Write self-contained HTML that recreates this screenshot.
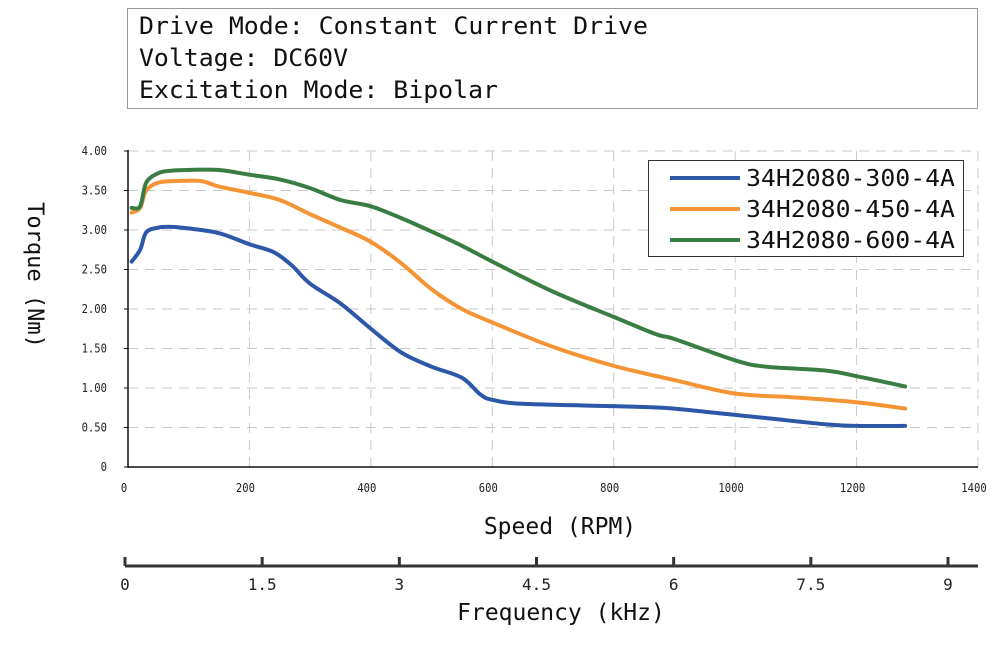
<!DOCTYPE html>
<html><head><meta charset="utf-8"><style>
body{margin:0;background:#fff;width:1001px;height:644px;overflow:hidden;font-family:"DejaVu Sans Mono","Liberation Mono",monospace}
</style></head><body>
<svg id="c" width="1001" height="644" xmlns="http://www.w3.org/2000/svg" font-family="DejaVu Sans Mono, Liberation Mono, monospace">
<g>
<rect x="127.5" y="8.5" width="850" height="100" fill="#fff" stroke="#999" stroke-width="1"/>
<text x="139" y="34" font-size="24" fill="#111" textLength="509" lengthAdjust="spacingAndGlyphs">Drive Mode: Constant Current Drive</text>
<text x="139" y="66" font-size="24" fill="#111" textLength="209" lengthAdjust="spacingAndGlyphs">Voltage: DC60V</text>
<text x="139" y="98" font-size="24" fill="#111" textLength="359" lengthAdjust="spacingAndGlyphs">Excitation Mode: Bipolar</text>
</g>
<g id="grid"></g><g id="axes"></g><g id="lines"></g>
<text transform="translate(28,275) rotate(90)" font-size="22" text-anchor="middle" fill="#111">Torque (Nm)</text>
<text x="560" y="534" font-size="23" text-anchor="middle" fill="#111">Speed (RPM)</text>
<text x="561" y="620" font-size="23" text-anchor="middle" fill="#111">Frequency (kHz)</text>
<g>
<rect x="648.5" y="160.5" width="315" height="96" fill="#fff" stroke="#333" stroke-width="1"/>
<g><line x1="670" y1="178" x2="740" y2="178" stroke="#2d58a8" stroke-width="4"/><text x="746" y="186" font-size="23" fill="#111" textLength="209" lengthAdjust="spacingAndGlyphs">34H2080-300-4A</text></g>
<g><line x1="670" y1="209" x2="740" y2="209" stroke="#f59434" stroke-width="4"/><text x="746" y="217" font-size="23" fill="#111" textLength="209" lengthAdjust="spacingAndGlyphs">34H2080-450-4A</text></g>
<g><line x1="670" y1="240" x2="740" y2="240" stroke="#3a7d44" stroke-width="4"/><text x="746" y="248" font-size="23" fill="#111" textLength="209" lengthAdjust="spacingAndGlyphs">34H2080-600-4A</text></g>
</g>
</svg>
<script>
const xTicks=[0,200,400,600,800,1000,1200,1400];
const yTicks=[0,0.5,1,1.5,2,2.5,3,3.5,4];
const yTickLabels=["0","0.50","1.00","1.50","2.00","2.50","3.00","3.50","4.00"];
const fTicks=[0,1.5,3,4.5,6,7.5,9];
const fTickLabels=["0","1.5","3","4.5","6","7.5","9"];
const speedA=[6,20,30,50,70,100,150,200,240,270,300,350,400,450,500,550,580,600,650,800,880,950,1050,1150,1200,1280];
const torqueA=[2.6,2.75,2.97,3.03,3.04,3.02,2.96,2.82,2.72,2.55,2.32,2.07,1.75,1.45,1.27,1.13,0.92,0.85,0.80,0.77,0.75,0.70,0.62,0.54,0.52,0.52];
const speedB=[6,20,30,50,80,120,150,200,250,300,350,400,450,500,550,600,700,800,900,1000,1100,1200,1280];
const torqueB=[3.22,3.28,3.5,3.6,3.62,3.62,3.55,3.47,3.38,3.2,3.03,2.85,2.58,2.25,2.0,1.83,1.52,1.28,1.1,0.93,0.88,0.82,0.74];
const speedC=[6,20,30,50,70,100,150,200,250,300,350,400,450,500,550,600,700,800,870,900,1000,1050,1150,1200,1280];
const torqueC=[3.28,3.3,3.6,3.72,3.75,3.76,3.76,3.7,3.64,3.53,3.38,3.3,3.15,2.98,2.8,2.6,2.22,1.9,1.68,1.62,1.35,1.27,1.22,1.15,1.02];
const NS="http://www.w3.org/2000/svg";
const X=v=>128+v*(850/1400), Y=v=>467-v*79, F=v=>125+v*(823/9);
function mk(p,t,a){const e=document.createElementNS(NS,t);for(const k in a)e.setAttribute(k,a[k]);p.appendChild(e);return e;}
const grid=document.getElementById('grid'),axes=document.getElementById('axes'),lines=document.getElementById('lines');
yTicks.forEach((v,i)=>{
  if(v>0){const g=mk(grid,'line',{x1:128,x2:978,y1:Y(v),y2:Y(v),stroke:'#c8c8c8','stroke-dasharray':'10,7'});
  
  }
  const t=mk(axes,'text',{x:107,y:Y(v)+4,'font-size':12,'text-anchor':'end',fill:'#222',transform:'translate(107,0) scale(0.88,1) translate(-107,0)'});t.textContent=yTickLabels[i];
  
  
});
xTicks.forEach(v=>{
  if(v>0){const g=mk(grid,'line',{x1:X(v),x2:X(v),y1:151,y2:467,stroke:'#c8c8c8','stroke-dasharray':'10,7'});
  
  }
  const cx=X(v)-4;
  const t=mk(axes,'text',{x:cx,y:492,'font-size':12,'text-anchor':'middle',fill:'#222',transform:'translate('+cx+',0) scale(0.88,1) translate('+(-cx)+',0)'});t.textContent=v;
  
  
});
mk(axes,'line',{x1:128,x2:128,y1:150,y2:468,stroke:'#111','stroke-width':1.5});
mk(axes,'line',{x1:128,x2:978,y1:467,y2:467,stroke:'#111','stroke-width':1.5});
yTicks.forEach(v=>mk(axes,'line',{x1:124,x2:128,y1:Y(v),y2:Y(v),stroke:'#111'}));
mk(axes,'line',{x1:125,x2:978,y1:566,y2:566,stroke:'#333','stroke-width':3});
fTicks.forEach((v,i)=>{
  mk(axes,'line',{x1:F(v),x2:F(v),y1:557,y2:566,stroke:'#333','stroke-width':3});
  const t=mk(axes,'text',{x:F(v),y:590,'font-size':16,'text-anchor':'middle',fill:'#222'});t.textContent=fTickLabels[i];
  
  
});
function path(xs,ys){const p=xs.map((x,i)=>[X(x),Y(ys[i])]);let d='M'+p[0][0]+','+p[0][1];
  for(let i=0;i<p.length-1;i++){const p0=p[i-1]||p[i],p1=p[i],p2=p[i+1],p3=p[i+2]||p2;
    d+=' C'+(p1[0]+(p2[0]-p0[0])/6)+','+(p1[1]+(p2[1]-p0[1])/6)+' '+(p2[0]-(p3[0]-p1[0])/6)+','+(p2[1]-(p3[1]-p1[1])/6)+' '+p2[0]+','+p2[1];}
  return d;}
[[speedA,torqueA,'#2d58a8','series-300-4a'],[speedB,torqueB,'#f59434','series-450-4a'],[speedC,torqueC,'#3a7d44','series-600-4a']].forEach(s=>{
  const e=mk(lines,'path',{d:path(s[0],s[1]),fill:'none',stroke:s[2],'stroke-width':4,'stroke-linecap':'round'});
  
  
});
</script>
</body></html>
